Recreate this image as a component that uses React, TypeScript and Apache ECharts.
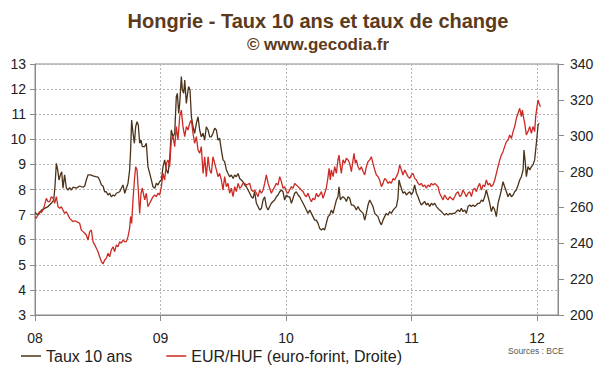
import React, { useEffect, useRef } from "react";
import * as echarts from "echarts";

const FONT = "'Liberation Sans', Arial, sans-serif";

const titleText = "Hongrie - Taux 10 ans et taux de change";
const subtitleText = "© www.gecodia.fr";
const sourceText = "Sources : BCE";
const seriesNames = ["Taux 10 ans", "EUR/HUF (euro-forint, Droite)"];
const yearTicks = [2008, 2009, 2010, 2011, 2012];

// Taux 10 ans (left axis, %)
const tauxDates = [
  2008.000, 2008.024, 2008.051, 2008.077, 2008.104, 2008.130, 2008.149, 2008.159, 2008.170, 2008.181,
  2008.191, 2008.202, 2008.213, 2008.223, 2008.236, 2008.250, 2008.263, 2008.276, 2008.290, 2008.303,
  2008.329, 2008.356, 2008.383, 2008.396, 2008.409, 2008.422, 2008.441, 2008.462, 2008.483, 2008.502,
  2008.515, 2008.529, 2008.542, 2008.555, 2008.568, 2008.582, 2008.595, 2008.608, 2008.622, 2008.635,
  2008.648, 2008.661, 2008.675, 2008.688, 2008.701, 2008.715, 2008.728, 2008.741, 2008.754, 2008.762,
  2008.770, 2008.781, 2008.792, 2008.802, 2008.813, 2008.823, 2008.834, 2008.845, 2008.855, 2008.874,
  2008.887, 2008.900, 2008.914, 2008.927, 2008.940, 2008.954, 2008.967, 2008.980, 2008.993, 2009.007,
  2009.020, 2009.033, 2009.047, 2009.060, 2009.073, 2009.086, 2009.100, 2009.113, 2009.126, 2009.134,
  2009.145, 2009.153, 2009.166, 2009.174, 2009.185, 2009.193, 2009.206, 2009.214, 2009.224, 2009.235,
  2009.246, 2009.259, 2009.272, 2009.286, 2009.299, 2009.312, 2009.325, 2009.339, 2009.352, 2009.365,
  2009.379, 2009.392, 2009.405, 2009.418, 2009.432, 2009.445, 2009.458, 2009.471, 2009.485, 2009.498,
  2009.511, 2009.525, 2009.538, 2009.551, 2009.564, 2009.578, 2009.591, 2009.604, 2009.618, 2009.631,
  2009.644, 2009.657, 2009.671, 2009.684, 2009.711, 2009.724, 2009.737, 2009.750, 2009.764, 2009.777,
  2009.790, 2009.804, 2009.817, 2009.830, 2009.843, 2009.857, 2009.870, 2009.883, 2009.896, 2009.910,
  2009.923, 2009.936, 2009.950, 2009.963, 2009.976, 2009.989, 2010.003, 2010.016, 2010.029, 2010.043,
  2010.056, 2010.069, 2010.082, 2010.096, 2010.109, 2010.122, 2010.136, 2010.149, 2010.162, 2010.175,
  2010.189, 2010.202, 2010.215, 2010.228, 2010.242, 2010.255, 2010.268, 2010.282, 2010.295, 2010.308,
  2010.321, 2010.335, 2010.348, 2010.361, 2010.375, 2010.388, 2010.401, 2010.414, 2010.422, 2010.433,
  2010.441, 2010.454, 2010.468, 2010.481, 2010.494, 2010.507, 2010.521, 2010.534, 2010.547, 2010.560,
  2010.574, 2010.587, 2010.600, 2010.614, 2010.627, 2010.640, 2010.653, 2010.667, 2010.680, 2010.693,
  2010.707, 2010.720, 2010.733, 2010.746, 2010.760, 2010.773, 2010.786, 2010.799, 2010.813, 2010.826,
  2010.839, 2010.853, 2010.866, 2010.879, 2010.892, 2010.900, 2010.911, 2010.919, 2010.932, 2010.946,
  2010.959, 2010.972, 2010.985, 2010.999, 2011.012, 2011.025, 2011.039, 2011.052, 2011.065, 2011.078,
  2011.092, 2011.105, 2011.118, 2011.131, 2011.145, 2011.158, 2011.171, 2011.185, 2011.198, 2011.211,
  2011.224, 2011.238, 2011.251, 2011.264, 2011.278, 2011.291, 2011.304, 2011.317, 2011.331, 2011.344,
  2011.357, 2011.371, 2011.384, 2011.397, 2011.410, 2011.424, 2011.437, 2011.450, 2011.464, 2011.477,
  2011.490, 2011.503, 2011.517, 2011.530, 2011.543, 2011.557, 2011.570, 2011.583, 2011.596, 2011.610,
  2011.623, 2011.636, 2011.649, 2011.663, 2011.676, 2011.689, 2011.703, 2011.716, 2011.729, 2011.742,
  2011.756, 2011.769, 2011.782, 2011.796, 2011.809, 2011.822, 2011.835, 2011.849, 2011.862, 2011.875,
  2011.889, 2011.896, 2011.907, 2011.915, 2011.928, 2011.942, 2011.955, 2011.968, 2011.981, 2011.989,
  2012.000, 2012.008, 2012.016,
];
const tauxValues = [
  7.08, 6.98, 7.18, 7.25, 7.32, 7.45, 7.58, 8.11, 9.04, 8.78,
  8.38, 8.58, 8.71, 8.05, 8.58, 8.05, 7.98, 8.07, 7.98, 8.09,
  8.05, 8.14, 8.09, 8.14, 8.38, 8.58, 8.58, 8.54, 8.51, 8.49,
  8.38, 8.18, 8.14, 7.91, 7.91, 7.78, 7.85, 7.71, 7.78, 7.74,
  7.85, 7.88, 7.91, 8.05, 8.18, 7.85, 8.05, 8.25, 8.78, 9.57,
  10.77, 10.24, 9.84, 10.50, 10.70, 10.57, 9.84, 9.97, 9.71, 9.71,
  9.84, 8.91, 8.64, 8.38, 8.11, 8.05, 8.25, 8.18, 8.31, 8.38,
  8.91, 9.18, 8.78, 8.64, 9.18, 10.37, 10.10, 10.24, 11.70, 11.83,
  11.03, 11.43, 12.50, 11.96, 11.83, 12.36, 11.43, 11.76, 12.10, 11.96,
  10.90, 10.50, 10.24, 10.64, 10.90, 10.37, 10.10, 10.24, 9.97, 10.50,
  10.37, 10.10, 10.10, 10.24, 10.44, 10.37, 9.97, 10.04, 9.57, 9.18,
  9.11, 8.78, 8.64, 8.51, 8.58, 8.44, 8.58, 8.51, 8.64, 8.44,
  8.38, 8.31, 8.18, 8.11, 7.85, 7.71, 7.65, 7.91, 7.45, 7.32,
  7.18, 7.25, 7.58, 7.71, 7.32, 7.18, 7.32, 7.45, 7.52, 7.58,
  7.71, 7.78, 7.91, 7.98, 7.91, 7.58, 7.78, 7.71, 7.71, 7.45,
  7.65, 7.85, 7.91, 7.78, 7.71, 7.58, 7.45, 7.32, 7.18, 7.05,
  7.18, 7.05, 6.92, 6.78, 6.78, 6.65, 6.45, 6.39, 6.45, 6.39,
  6.65, 6.92, 6.98, 7.18, 7.05, 7.32, 7.58, 7.71, 8.11, 7.58,
  7.65, 7.71, 7.65, 7.52, 7.71, 7.65, 7.38, 7.38, 7.32, 7.18,
  7.32, 7.18, 7.12, 7.05, 6.78, 7.05, 7.38, 7.58, 7.45, 7.32,
  7.05, 6.98, 6.92, 6.72, 6.59, 6.78, 6.92, 7.05, 6.98, 7.12,
  7.05, 7.18, 7.25, 7.32, 7.65, 8.38, 8.18, 8.05, 7.85, 7.91,
  7.78, 7.85, 7.91, 7.78, 7.91, 8.18, 7.85, 7.71, 7.52, 7.38,
  7.45, 7.52, 7.38, 7.45, 7.32, 7.45, 7.38, 7.45, 7.32, 7.25,
  7.18, 7.12, 7.05, 6.98, 7.05, 6.98, 7.05, 7.02, 7.05, 7.05,
  7.12, 7.18, 7.12, 7.25, 7.12, 7.18, 7.05, 7.32, 7.38, 7.32,
  7.38, 7.32, 7.38, 7.45, 7.45, 7.58, 7.52, 7.71, 7.98, 7.71,
  7.45, 7.12, 7.32, 7.18, 6.92, 7.45, 7.71, 7.98, 8.31, 8.11,
  7.91, 7.71, 7.85, 7.71, 7.78, 7.91, 7.98, 8.18, 8.38, 8.51,
  8.78, 9.57, 9.04, 8.51, 8.91, 8.78, 8.91, 8.98, 9.18, 9.57,
  10.10, 10.57, 10.64,
];

// EUR/HUF (right axis)
const hufDates = [
  2008.000, 2008.011, 2008.024, 2008.037, 2008.051, 2008.064, 2008.077, 2008.090, 2008.104, 2008.117,
  2008.130, 2008.144, 2008.157, 2008.170, 2008.183, 2008.197, 2008.210, 2008.223, 2008.236, 2008.250,
  2008.263, 2008.276, 2008.290, 2008.303, 2008.316, 2008.329, 2008.343, 2008.356, 2008.369, 2008.383,
  2008.396, 2008.409, 2008.422, 2008.436, 2008.449, 2008.462, 2008.476, 2008.489, 2008.502, 2008.515,
  2008.529, 2008.542, 2008.555, 2008.568, 2008.582, 2008.595, 2008.608, 2008.622, 2008.635, 2008.648,
  2008.661, 2008.675, 2008.688, 2008.701, 2008.715, 2008.728, 2008.741, 2008.754, 2008.762, 2008.770,
  2008.781, 2008.792, 2008.802, 2008.813, 2008.823, 2008.834, 2008.845, 2008.855, 2008.874, 2008.887,
  2008.900, 2008.914, 2008.927, 2008.940, 2008.954, 2008.967, 2008.980, 2008.993, 2009.007, 2009.020,
  2009.033, 2009.047, 2009.060, 2009.073, 2009.086, 2009.100, 2009.113, 2009.126, 2009.139, 2009.153,
  2009.166, 2009.179, 2009.193, 2009.206, 2009.219, 2009.232, 2009.246, 2009.259, 2009.272, 2009.286,
  2009.299, 2009.312, 2009.325, 2009.339, 2009.352, 2009.365, 2009.379, 2009.392, 2009.405, 2009.418,
  2009.432, 2009.445, 2009.458, 2009.471, 2009.485, 2009.498, 2009.511, 2009.525, 2009.538, 2009.551,
  2009.564, 2009.578, 2009.591, 2009.604, 2009.618, 2009.631, 2009.644, 2009.657, 2009.671, 2009.684,
  2009.711, 2009.724, 2009.737, 2009.750, 2009.764, 2009.777, 2009.790, 2009.804, 2009.817, 2009.830,
  2009.843, 2009.857, 2009.870, 2009.883, 2009.896, 2009.910, 2009.923, 2009.936, 2009.950, 2009.963,
  2009.976, 2009.989, 2010.003, 2010.016, 2010.029, 2010.043, 2010.056, 2010.069, 2010.082, 2010.096,
  2010.109, 2010.122, 2010.136, 2010.149, 2010.162, 2010.175, 2010.189, 2010.202, 2010.215, 2010.228,
  2010.242, 2010.255, 2010.268, 2010.282, 2010.295, 2010.308, 2010.321, 2010.335, 2010.343, 2010.353,
  2010.361, 2010.375, 2010.388, 2010.401, 2010.414, 2010.422, 2010.433, 2010.441, 2010.454, 2010.468,
  2010.481, 2010.494, 2010.507, 2010.521, 2010.534, 2010.542, 2010.552, 2010.560, 2010.574, 2010.587,
  2010.600, 2010.614, 2010.627, 2010.640, 2010.653, 2010.667, 2010.680, 2010.693, 2010.707, 2010.720,
  2010.733, 2010.746, 2010.760, 2010.773, 2010.786, 2010.799, 2010.813, 2010.826, 2010.839, 2010.853,
  2010.866, 2010.879, 2010.892, 2010.906, 2010.919, 2010.932, 2010.946, 2010.959, 2010.972, 2010.985,
  2010.999, 2011.012, 2011.025, 2011.039, 2011.052, 2011.065, 2011.078, 2011.092, 2011.105, 2011.118,
  2011.131, 2011.145, 2011.158, 2011.171, 2011.185, 2011.198, 2011.211, 2011.224, 2011.238, 2011.251,
  2011.264, 2011.278, 2011.291, 2011.304, 2011.317, 2011.331, 2011.344, 2011.357, 2011.371, 2011.384,
  2011.397, 2011.410, 2011.424, 2011.437, 2011.450, 2011.464, 2011.477, 2011.490, 2011.503, 2011.517,
  2011.530, 2011.543, 2011.557, 2011.570, 2011.583, 2011.596, 2011.610, 2011.623, 2011.636, 2011.649,
  2011.663, 2011.676, 2011.689, 2011.703, 2011.716, 2011.729, 2011.742, 2011.756, 2011.769, 2011.782,
  2011.796, 2011.809, 2011.822, 2011.835, 2011.849, 2011.862, 2011.875, 2011.883, 2011.894, 2011.902,
  2011.915, 2011.928, 2011.942, 2011.955, 2011.968, 2011.981, 2011.989, 2012.000, 2012.008, 2012.016,
  2012.027,
];
const hufValues = [
  254.9, 253.9, 256.3, 257.6, 257.1, 258.6, 261.4, 265.1, 263.2, 263.2,
  266.0, 265.1, 262.3, 266.0, 260.4, 259.5, 260.4, 258.6, 256.7, 257.6,
  255.8, 253.9, 253.0, 252.1, 252.6, 252.1, 251.7, 251.1, 247.4, 246.5,
  245.6, 244.6, 241.8, 246.5, 247.4, 240.9, 239.1, 237.2, 235.3, 232.5,
  229.8, 228.5, 230.7, 231.6, 234.4, 232.5, 236.3, 238.1, 235.3, 239.1,
  238.1, 240.9, 240.0, 241.8, 240.9, 240.9, 243.7, 248.4, 254.9, 251.1,
  264.2, 275.3, 282.7, 280.9, 269.7, 256.7, 267.9, 270.7, 264.2, 267.9,
  260.4, 262.3, 264.2, 266.0, 266.9, 266.0, 267.9, 266.9, 271.6, 279.0,
  275.3, 284.6, 286.5, 282.7, 297.6, 299.5, 293.9, 305.1, 297.6, 310.6,
  314.3, 305.1, 299.5, 305.1, 303.2, 306.9, 308.8, 301.3, 295.8, 299.5,
  292.0, 290.2, 293.9, 279.0, 288.3, 277.2, 288.3, 280.9, 279.0, 288.3,
  284.6, 280.9, 277.2, 279.0, 275.3, 269.7, 277.2, 271.6, 273.4, 267.9,
  270.7, 266.0, 271.6, 268.8, 273.4, 270.7, 271.6, 273.4, 273.4, 272.5,
  273.4, 269.7, 268.8, 269.7, 267.9, 266.0, 269.7, 267.9, 269.7, 273.4,
  278.1, 273.4, 270.7, 267.9, 269.7, 271.6, 273.4, 272.5, 277.2, 274.4,
  270.7, 271.6, 268.8, 267.9, 269.7, 271.6, 270.7, 273.4, 272.5, 271.6,
  270.7, 269.7, 268.8, 266.9, 266.0, 267.9, 265.1, 263.2, 265.1, 264.2,
  267.9, 266.0, 266.9, 268.8, 265.1, 267.9, 270.7, 277.2, 281.8, 275.3,
  280.9, 277.2, 282.7, 279.0, 286.5, 289.2, 282.7, 279.0, 286.5, 284.6,
  287.4, 286.5, 284.6, 280.0, 286.5, 290.2, 284.6, 286.5, 282.7, 280.9,
  282.7, 280.0, 278.1, 282.7, 285.5, 286.5, 288.3, 284.6, 280.9, 278.1,
  277.2, 275.3, 271.6, 273.4, 276.2, 275.3, 273.4, 274.4, 273.4, 276.2,
  275.3, 277.2, 279.0, 283.7, 280.9, 278.1, 280.9, 279.0, 277.2, 276.2,
  278.1, 279.0, 276.2, 275.3, 273.4, 272.5, 273.4, 271.6, 272.5, 270.7,
  272.5, 271.6, 273.4, 272.5, 273.4, 272.5, 271.6, 267.9, 266.0, 264.2,
  266.9, 265.1, 264.2, 266.0, 265.1, 264.2, 266.0, 267.9, 268.8, 266.0,
  266.9, 269.7, 267.9, 266.0, 267.9, 268.8, 266.0, 269.7, 270.7, 268.8,
  271.6, 273.4, 269.7, 272.5, 271.6, 275.3, 272.5, 273.4, 271.6, 272.5,
  275.3, 279.0, 282.7, 286.5, 289.2, 291.1, 293.9, 296.7, 297.6, 300.4,
  298.5, 302.3, 305.1, 309.7, 312.5, 315.3, 310.6, 314.3, 309.7, 306.9,
  300.4, 302.3, 305.1, 301.3, 305.1, 302.3, 310.6, 316.2, 319.9, 318.1,
  316.2,
];

export default function App() {
  const ref = useRef<HTMLDivElement>(null);

  useEffect(() => {
    if (!ref.current) return;
    const chart = echarts.init(ref.current, null, { renderer: "svg" });
    const tauxData = tauxDates.map((d, i) => [d, tauxValues[i]]);
    const hufData = hufDates.map((d, i) => [d, hufValues[i]]);
    const axisColor = "#8a8a8a";
    const gridDash = { color: "#b4b4b4", type: [2, 2] as any, width: 1 };

    chart.setOption({
      animation: false,
      backgroundColor: "#ffffff",
      textStyle: { fontFamily: FONT },
      grid: {
        left: 35,
        right: 42,
        top: 64,
        bottom: 57,
        show: true,
        borderColor: axisColor,
        borderWidth: 1,
        backgroundColor: "transparent",
      },
      graphic: [
        {
          type: "text",
          x: 318,
          y: 21,
          style: {
            text: titleText,
            font: `bold 20px ${FONT}`,
            fill: "#5b3b1b",
            textAlign: "center",
            textVerticalAlign: "middle",
          },
        },
        {
          type: "text",
          x: 318,
          y: 44,
          style: {
            text: subtitleText,
            font: `bold 17px ${FONT}`,
            fill: "#5b3b1b",
            textAlign: "center",
            textVerticalAlign: "middle",
          },
        },
        {
          type: "text",
          x: 508,
          y: 351,
          style: {
            text: sourceText,
            font: `8.5px ${FONT}`,
            fill: "#555555",
            textAlign: "left",
            textVerticalAlign: "middle",
          },
        },
      ],
      legend: {
        left: 16,
        top: 343,
        icon: "rect",
        itemWidth: 20,
        itemHeight: 1.5,
        itemGap: 34,
        data: seriesNames,
        textStyle: { fontSize: 16, color: "#222222", fontFamily: FONT },
      },
      xAxis: {
        type: "value",
        min: yearTicks[0],
        max: 2012.167,
        interval: 1,
        axisLine: { show: true, lineStyle: { color: axisColor } },
        axisTick: { show: true, length: 6, lineStyle: { color: axisColor } },
        axisLabel: {
          fontSize: 14,
          color: "#222222",
          margin: 16,
          showMaxLabel: false,
          formatter: (v: number) =>
            yearTicks.includes(Math.round(v * 1000) / 1000) ? String(v).slice(2, 4) : "",
        },
        splitLine: { show: true, lineStyle: gridDash },
      },
      yAxis: [
        {
          type: "value",
          position: "left",
          min: 3,
          max: 13,
          interval: 1,
          axisLine: { show: true, lineStyle: { color: axisColor } },
          axisTick: { show: true, length: 5, lineStyle: { color: axisColor } },
          axisLabel: { fontSize: 14, color: "#222222", margin: 9 },
          splitLine: { show: true, lineStyle: gridDash },
        },
        {
          type: "value",
          position: "right",
          min: 200,
          max: 340,
          interval: 20,
          axisLine: { show: true, lineStyle: { color: axisColor } },
          axisTick: { show: true, length: 6, lineStyle: { color: axisColor } },
          axisLabel: { fontSize: 14, color: "#222222", margin: 12 },
          splitLine: { show: false },
        },
      ],
      series: [
        {
          name: seriesNames[0],
          type: "line",
          yAxisIndex: 0,
          data: tauxData,
          showSymbol: false,
          symbol: "none",
          lineStyle: { color: "#4b3219", width: 1.3 },
          itemStyle: { color: "#4b3219" },
        },
        {
          name: seriesNames[1],
          type: "line",
          yAxisIndex: 1,
          data: hufData,
          showSymbol: false,
          symbol: "none",
          lineStyle: { color: "#cc2a24", width: 1.3 },
          itemStyle: { color: "#cc2a24" },
        },
      ],
    });

    return () => chart.dispose();
  }, []);

  return (
    <div
      ref={ref}
      style={{ position: "fixed", left: 0, top: 0, width: 600, height: 372, background: "#fff" }}
    />
  );
}
